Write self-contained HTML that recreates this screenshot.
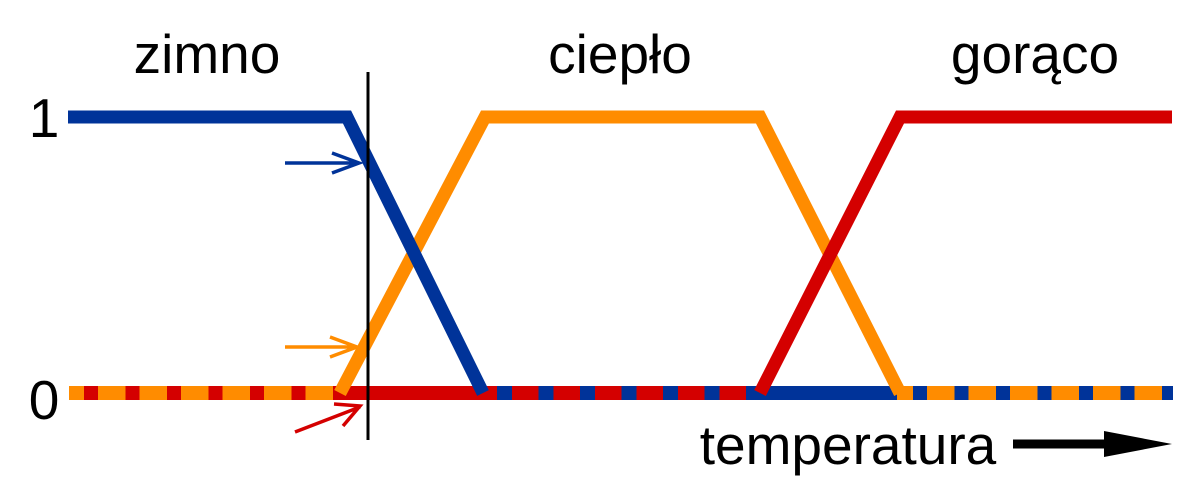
<!DOCTYPE html>
<html><head><meta charset="utf-8"><style>html,body{margin:0;padding:0;background:#fff}svg{display:block}</style></head>
<body>
<svg width="1200" height="488" viewBox="0 0 1200 488" xmlns="http://www.w3.org/2000/svg">
<g font-family="Liberation Sans, sans-serif" font-size="55" fill="#000">
<text x="207" y="73" text-anchor="middle">zimno</text>
<text x="620" y="73" text-anchor="middle">ciepło</text>
<text x="1035" y="73" text-anchor="middle">gorąco</text>
<text x="44" y="137" text-anchor="middle">1</text>
<text x="44" y="419" text-anchor="middle">0</text>
<text x="848" y="464" text-anchor="middle">temperatura</text>
</g>
<g stroke-width="14" fill="none">
<line x1="69" y1="393" x2="333" y2="393" stroke="#ff8c00"/>
<line x1="84" y1="393" x2="333" y2="393" stroke="#d40000" stroke-dasharray="14 27.5"/>
<line x1="333" y1="393" x2="497" y2="393" stroke="#d40000"/>
<line x1="497" y1="393" x2="760" y2="393" stroke="#d40000"/>
<line x1="497" y1="393" x2="760" y2="393" stroke="#003399" stroke-dasharray="15 26.5"/>
<line x1="757" y1="393" x2="897" y2="393" stroke="#003399"/>
<line x1="897" y1="393" x2="1173" y2="393" stroke="#ff8c00"/>
<line x1="913" y1="393" x2="1173" y2="393" stroke="#003399" stroke-dasharray="14 27.5"/>
</g>
<g stroke-width="13" fill="none" stroke-linejoin="miter">
<polyline points="340,393 485,117 760,117 900,393" stroke="#ff8c00"/>
<polyline points="68,117 347,117 483,393" stroke="#003399"/>
<polyline points="760,393 900,117 1172,117" stroke="#d40000"/>
</g>
<line x1="368" y1="72" x2="368" y2="440" stroke="#000" stroke-width="3"/>
<g fill="none" stroke-width="3.5">
<path d="M285,163 H358 M332,153 L359,163 L332,173" stroke="#003399"/>
<path d="M285,347 H356 M330,337 L357,347 L330,357" stroke="#ff8c00"/>
<path d="M295,432 L360,407 M334,404 L360,406 L343,426" stroke="#d40000"/>
</g>
<line x1="1013" y1="444" x2="1110" y2="444" stroke="#000" stroke-width="9"/>
<polygon points="1104,431 1172,444 1104,457" fill="#000"/>
</svg>
</body></html>
